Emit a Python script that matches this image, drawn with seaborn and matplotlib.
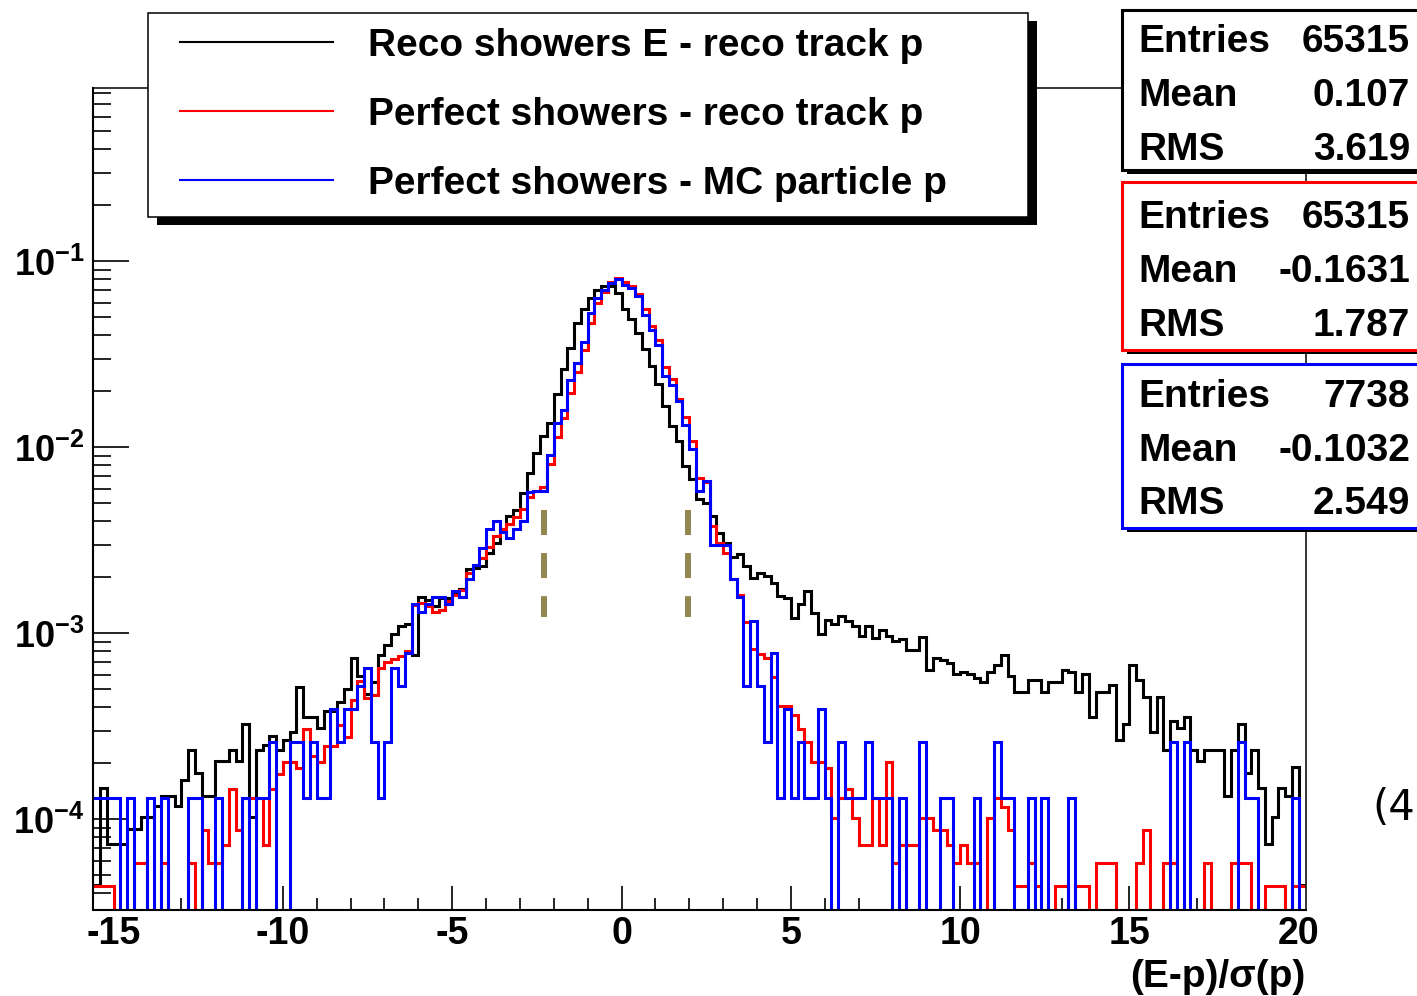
import numpy as np
import matplotlib
matplotlib.use("Agg")
import matplotlib.pyplot as plt
import seaborn as sns
from matplotlib.patches import Rectangle
from matplotlib.lines import Line2D
from matplotlib.legend_handler import HandlerLine2D
from matplotlib.ticker import MultipleLocator, LogLocator, NullFormatter, FuncFormatter

# ---------------------------------------------------------------- data
# (E-p)/sigma(p) binning: 0.2 wide bins from -15.6 to 20.2
x_lo, x_hi, bin_w = -15.6, 20.2, 0.2
n_bins = 179

# entries per bin
reco_counts = [
    3, 10, 5, 5, 5, 6, 6, 7, 7, 8,
    9, 9, 8, 11, 16, 12, 9, 9, 14, 14,
    16, 14, 22, 7, 16, 17, 19, 16, 18, 20,
    35, 24, 24, 21, 26, 26, 29, 34, 50, 40,
    32, 37, 52, 59, 67, 74, 76, 52, 107, 103,
    95, 105, 105, 110, 117, 150, 153, 156, 184, 208,
    245, 290, 314, 386, 495, 634, 779, 920, 1307, 1780,
    2329, 3171, 3740, 4318, 4786, 4988, 4988, 4592, 3740, 3304,
    2800, 2279, 1854, 1478, 1131, 883, 733, 538, 456, 356,
    341, 289, 235, 208, 175, 180, 156, 135, 143, 138,
    127, 108, 105, 82, 97, 114, 87, 67, 80, 76,
    84, 79, 74, 66, 74, 64, 71, 66, 62, 63,
    55, 55, 65, 43, 50, 49, 47, 41, 42, 41,
    39, 37, 42, 46, 52, 40, 33, 33, 38, 38,
    33, 37, 37, 43, 42, 33, 41, 24, 33, 33,
    36, 18, 22, 46, 38, 31, 20, 31, 16, 23,
    21, 24, 16, 14, 16, 16, 16, 9, 16, 22,
    12, 16, 10, 5, 7, 10, 9, 13, 3,
]
perfect_reco_counts = [
    3, 3, 3, 0, 0, 0, 4, 4, 0, 0,
    4, 0, 0, 0, 4, 0, 6, 4, 4, 5,
    10, 6, 9, 9, 9, 5, 10, 12, 14, 14,
    13, 21, 15, 14, 17, 17, 22, 19, 30, 38,
    31, 32, 45, 48, 50, 52, 55, 98, 100, 97,
    90, 92, 103, 110, 118, 145, 160, 175, 200, 230,
    250, 265, 290, 320, 370, 400, 420, 560, 780, 990,
    1350, 1750, 2300, 3200, 4100, 4700, 5300, 5580, 5300, 5050,
    4600, 3800, 3100, 2600, 1850, 1600, 1250, 1000, 740, 470,
    450, 260, 210, 185, 135, 110, 79, 57, 53, 51,
    40, 28, 28, 25, 21, 18, 14, 14, 13, 7,
    9, 10, 7, 5, 5, 9, 5, 14, 4, 5,
    5, 5, 7, 7, 6, 6, 5, 4, 5, 4,
    4, 0, 7, 9, 8, 6, 3, 3, 4, 3,
    0, 0, 3, 3, 0, 3, 3, 0, 4, 4,
    4, 0, 0, 0, 4, 6, 0, 0, 4, 4,
    0, 0, 0, 0, 4, 0, 0, 0, 4, 4,
    4, 0, 0, 3, 3, 3, 0, 3, 3,
]
perfect_mc_counts = [
    1, 1, 1, 1, 0, 1, 0, 0, 1, 0,
    1, 0, 0, 0, 1, 1, 0, 0, 1, 0,
    0, 0, 1, 0, 1, 1, 2, 0, 0, 2,
    2, 1, 2, 1, 1, 3, 2, 3, 3, 4,
    5, 2, 1, 2, 5, 4, 6, 11, 10, 11,
    12, 12, 11, 13, 12, 15, 18, 22, 28, 31,
    27, 25, 28, 31, 44, 45, 45, 70, 104, 122,
    178, 218, 285, 405, 488, 540, 587, 617, 575, 552,
    498, 397, 330, 274, 185, 167, 136, 102, 75, 45,
    51, 23, 23, 23, 15, 12, 4, 9, 4, 2,
    6, 1, 3, 1, 2, 1, 1, 3, 1, 0,
    2, 1, 1, 1, 2, 1, 1, 1, 0, 1,
    0, 0, 2, 0, 0, 1, 1, 0, 0, 0,
    1, 0, 0, 2, 1, 1, 0, 0, 1, 0,
    1, 0, 0, 0, 1, 0, 0, 0, 0, 0,
    0, 0, 0, 0, 0, 0, 0, 0, 0, 2,
    0, 2, 0, 0, 0, 0, 0, 0, 0, 2,
    1, 1, 0, 0, 0, 0, 0, 1, 0,
]

series_labels = [
    "Reco showers E - reco track p",
    "Perfect showers - reco track p",
    "Perfect showers - MC particle p",
]
series_counts = [reco_counts, perfect_reco_counts, perfect_mc_counts]
series_colors = ["#000000", "#ff0000", "#0000ff"]

# statistics boxes: entries, mean, rms
stat_entries = ["65315", "65315", "7738"]
stat_means = ["0.107", "-0.1631", "-0.1032"]
stat_rms = ["3.619", "1.787", "2.549"]

# selection window markers
cut_x = [-2.3, 1.95]
cut_y = [4.6e-3, 1.23e-3]

x_ticks_major = 5
x_ticks_minor = 1
y_range = (3.28e-5, 0.851)

# ---------------------------------------------------------------- style
plt.rcParams["font.family"] = ["Liberation Sans", "DejaVu Sans"]
plt.rcParams["font.weight"] = "bold"
plt.rcParams["axes.unicode_minus"] = False
plt.rcParams["mathtext.fontset"] = "custom"
plt.rcParams["mathtext.rm"] = "Liberation Sans:bold"
plt.rcParams["mathtext.bf"] = "Liberation Sans:bold"
plt.rcParams["mathtext.it"] = "Liberation Sans:bold"
plt.rcParams["lines.scale_dashes"] = False

W, H = 1417, 996
fig = plt.figure(figsize=(W / 100, H / 100), dpi=100)
fig.patch.set_facecolor("white")

ax_l, ax_r, ax_t, ax_b = 93.3, 1305.5, 88.5, 909.5
ax = fig.add_axes([ax_l / W, 1 - ax_b / H, (ax_r - ax_l) / W, (ax_b - ax_t) / H])

edges = x_lo + bin_w * np.arange(n_bins + 1)
centers = edges[:-1] + bin_w / 2
bin_list = [float(e) for e in edges]

for counts, color in zip(series_counts, series_colors):
    counts = np.asarray(counts, dtype=float)
    frac = counts / counts.sum()
    sns.histplot(x=centers, weights=frac, bins=bin_list, element="step", fill=False,
                 color=color, linewidth=2.2, solid_joinstyle="miter", ax=ax)

for xc in cut_x:
    ax.plot([xc, xc], cut_y, color="#928750", lw=4.3, linestyle=(0, (18, 13)),
            solid_capstyle="butt", zorder=3)

ax.set_yscale("log")
ax.set_xlim(x_lo, x_hi)
ax.set_ylim(*y_range)
ax.set_ylabel("")

# axes frame
for side in ["left", "bottom"]:
    ax.spines[side].set_linewidth(1.5)
for side in ["top", "right"]:
    ax.spines[side].set_linewidth(1.1)

ax.xaxis.set_major_locator(MultipleLocator(x_ticks_major))
ax.xaxis.set_minor_locator(MultipleLocator(x_ticks_minor))
ax.yaxis.set_major_locator(LogLocator(base=10, numticks=30))
ax.yaxis.set_minor_locator(LogLocator(base=10, subs=np.arange(2, 10), numticks=30))
ax.yaxis.set_minor_formatter(NullFormatter())
ax.yaxis.set_major_formatter(
    FuncFormatter(lambda v, p: r"$\mathbf{10^{%d}}$" % int(np.round(np.log10(v)))))

ax.tick_params(axis="x", which="major", direction="in", length=17, width=1.2,
               top=False, pad=4.6, labelsize=27)
ax.tick_params(axis="x", which="minor", direction="in", length=8.5, width=1.2, top=False)
ax.tick_params(axis="y", which="major", direction="in", length=26, width=1.2,
               right=False, pad=6.5, labelsize=26)
ax.tick_params(axis="y", which="minor", direction="in", length=13, width=1.2, right=False)
for lab in ax.get_xticklabels() + ax.get_yticklabels():
    lab.set_fontweight("bold")

ax.set_xlabel(r"(E-p)/σ(p)", fontsize=28, fontweight="bold", loc="right")
ax.xaxis.set_label_coords(1.0, -(959 - ax_b) / (ax_b - ax_t))


# ---------------------------------------------------------------- legend
class LeadingGapLine(HandlerLine2D):
    def __init__(self, lead, **kw):
        super().__init__(**kw)
        self.lead = lead

    def get_xdata(self, legend, xdescent, ydescent, width, height, fontsize):
        x0 = -xdescent + self.lead * fontsize
        x1 = -xdescent + width
        xdata = np.array([x0, x1])
        return xdata, xdata


handles = [Line2D([], [], color=c, lw=1.5) for c in series_colors]
leg_l, leg_t, leg_w = 148, 13, 880
leg = fig.legend(handles, series_labels, loc="upper left",
                 bbox_to_anchor=(leg_l / W, 0.5, leg_w / W, (1 - leg_t / H) - 0.5),
                 bbox_transform=fig.transFigure, mode="expand",
                 prop={"family": "Liberation Sans", "weight": "bold", "size": 28},
                 frameon=True, fancybox=False, framealpha=1, edgecolor="black",
                 borderaxespad=0, borderpad=0.38, labelspacing=0.85,
                 handlelength=4.37, handletextpad=0.9,
                 handler_map={Line2D: LeadingGapLine(0.44)})
leg.get_frame().set_linewidth(1.1)
leg.set_zorder(5)

fig.canvas.draw()
bb = leg.get_window_extent()
shadow = Rectangle(((bb.x0 + 9) / W, (bb.y0 - 8) / H), bb.width / W, bb.height / H,
                   transform=fig.transFigure, facecolor="black", edgecolor="none",
                   zorder=4.9)
fig.add_artist(shadow)

# ---------------------------------------------------------------- stat boxes
box_tops = [10, 182, 364]
box_bottoms = [170, 350, 528]
row_offsets = [[28, 82, 136], [32, 86, 140], [29, 83, 136]]
box_left = 1122
for i in range(3):
    top, bot = box_tops[i], box_bottoms[i]
    sh = Rectangle(((box_left + 5) / W, 1 - (bot + 4) / H), 400 / W, (bot - top) / H,
                   transform=fig.transFigure, facecolor="black", edgecolor="none",
                   zorder=5.9)
    fig.add_artist(sh)
    rect = Rectangle((box_left / W, 1 - bot / H), 400 / W, (bot - top) / H,
                     transform=fig.transFigure, facecolor="white",
                     edgecolor=series_colors[i], linewidth=2.2, zorder=6)
    fig.add_artist(rect)
    rows = [("Entries", stat_entries[i]), ("Mean", stat_means[i]), ("RMS", stat_rms[i])]
    for (name, val), off in zip(rows, row_offsets[i]):
        y = 1 - (top + off + 4) / H
        fig.text(1138 / W, y, name, ha="left", va="center", fontsize=28,
                 fontweight="bold", zorder=7)
        fig.text(1410 / W, y, val, ha="right", va="center", fontsize=28,
                 fontweight="bold", zorder=7)

# equation number at the page margin
fig.text(1415 / W, 1 - 808 / H, "(4", ha="right", va="center", fontsize=30,
         family="DejaVu Sans", fontweight="normal")

fig.savefig("out.png", dpi=100)
